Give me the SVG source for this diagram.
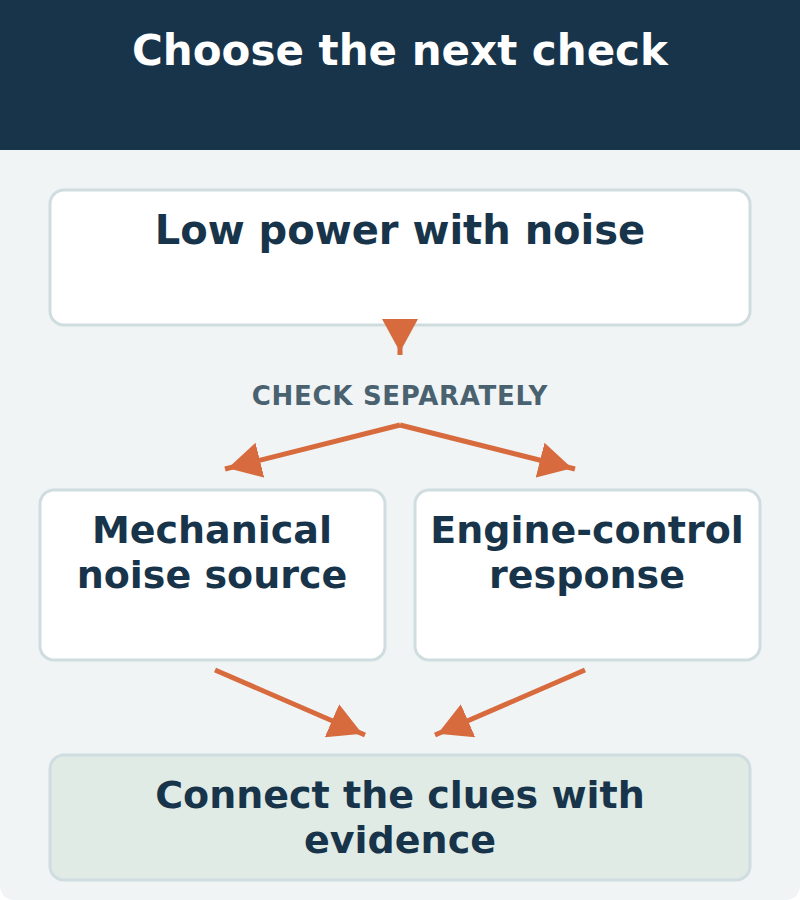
<svg xmlns="http://www.w3.org/2000/svg" width="800" height="900" viewBox="0 0 800 900">
<defs>
<style>
.node{fill:#ffffff;stroke:#d0dde0;stroke-width:3}
.final{fill:#e0ebe5;stroke:#d0dde0;stroke-width:3}
.t{font-family:"DejaVu Sans","Liberation Sans",sans-serif;font-weight:bold;fill:#17344a;text-anchor:middle;font-size:38px}
.big{font-size:40px}
.title{font-family:"DejaVu Sans","Liberation Sans",sans-serif;font-weight:bold;fill:#ffffff;text-anchor:middle;font-size:42px}
.lbl{font-family:"DejaVu Sans","Liberation Sans",sans-serif;font-weight:bold;fill:#4a6270;text-anchor:middle;font-size:26px;letter-spacing:0.7px}
.edge{stroke:#d86b3e;stroke-width:5;fill:none}
</style>
<marker id="ah" markerUnits="userSpaceOnUse" markerWidth="36" markerHeight="36" refX="36" refY="18" orient="auto" viewBox="0 0 36 36">
<path d="M0,0 L33,18 L0,36 z" fill="#d86b3e"/>
</marker>
</defs>
<rect x="0" y="0" width="800" height="900" rx="14" fill="#f0f4f5"/>
<rect x="0" y="0" width="800" height="150" fill="#17344a"/>
<text class="title" x="400" y="65">Choose the next check</text>

<g id="n1">
<rect class="node" x="50" y="190" width="700" height="135" rx="14"/>
<text class="t big" x="400" y="244">Low power with noise</text>
</g>
<g id="n2">
<rect class="node" x="40" y="490" width="345" height="170" rx="14"/>
<text class="t" x="212" y="543">Mechanical</text>
<text class="t" x="212" y="588">noise source</text>
</g>
<g id="n3">
<rect class="node" x="415" y="490" width="345" height="170" rx="14"/>
<text class="t" x="587" y="543">Engine-control</text>
<text class="t" x="587" y="588">response</text>
</g>
<g id="n4">
<rect class="final" x="50" y="755" width="700" height="125" rx="14"/>
<text class="t" x="400" y="808">Connect the clues with</text>
<text class="t" x="400" y="853">evidence</text>
</g>

<g id="edges">
<line class="edge" x1="400" y1="322" x2="400" y2="355" marker-end="url(#ah)"/>
<text class="lbl" x="400" y="405">CHECK SEPARATELY</text>
<line class="edge" x1="400" y1="425" x2="225" y2="469" marker-end="url(#ah)"/>
<line class="edge" x1="400" y1="425" x2="575" y2="469" marker-end="url(#ah)"/>
<line class="edge" x1="215" y1="670" x2="365" y2="735" marker-end="url(#ah)"/>
<line class="edge" x1="585" y1="670" x2="435" y2="735" marker-end="url(#ah)"/>
</g>
</svg>
